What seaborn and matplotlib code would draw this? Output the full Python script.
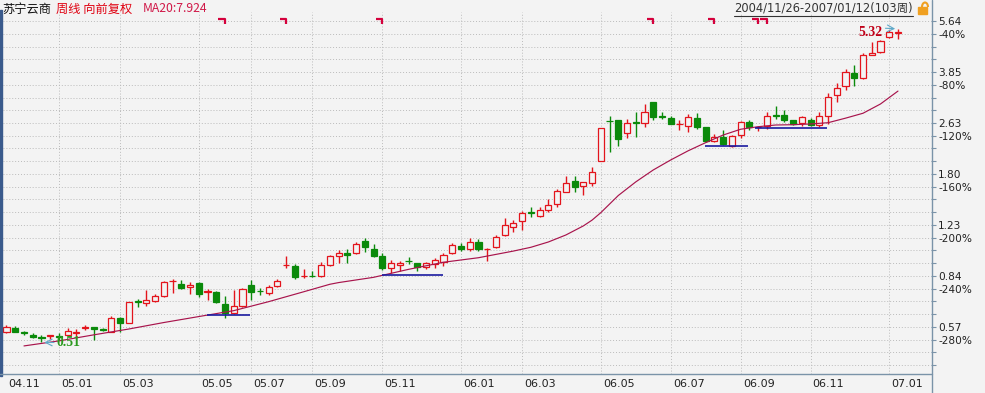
import numpy as np
import pandas as pd
import matplotlib
matplotlib.use('Agg')
import matplotlib.pyplot as plt
import matplotlib.transforms as mtransforms
from matplotlib.ticker import NullLocator
from matplotlib.patches import Rectangle, Arc
import seaborn as sns

# Weekly candles, forward adjusted, 2004/11/26 - 2007/01/12
opens = [0.553, 0.569, 0.550, 0.540, 0.532, 0.537, 0.537, 0.540, 0.547, 0.569,
         0.572, 0.564, 0.553, 0.611, 0.592, 0.693, 0.684, 0.697, 0.721, 0.806,
         0.789, 0.774, 0.794, 0.742, 0.744, 0.679, 0.634, 0.670, 0.786, 0.752,
         0.740, 0.778, 0.907, 0.905, 0.836, 0.840, 0.840, 0.910, 0.976, 0.993,
         0.998, 1.092, 1.023, 0.972, 0.888, 0.910, 0.939, 0.922, 0.895, 0.917,
         0.933, 0.993, 1.049, 1.023, 1.081, 1.023, 1.039, 1.137, 1.213, 1.265,
         1.350, 1.313, 1.373, 1.432, 1.575, 1.704, 1.643, 1.680, 1.980, 2.677,
         2.691, 2.436, 2.641, 2.625, 3.071, 2.766, 2.728, 2.606, 2.573, 2.728,
         2.548, 2.297, 2.365, 2.221, 2.405, 2.645, 2.545, 2.580, 2.786, 2.790,
         2.691, 2.625, 2.691, 2.592, 2.774, 3.243, 3.470, 3.832, 3.675, 4.390,
         4.490, 4.990, 5.160]
highs = [0.582, 0.575, 0.556, 0.547, 0.540, 0.540, 0.547, 0.567, 0.563, 0.582,
         0.574, 0.567, 0.622, 0.619, 0.692, 0.708, 0.755, 0.731, 0.809, 0.821,
         0.813, 0.803, 0.803, 0.759, 0.751, 0.723, 0.755, 0.765, 0.813, 0.765,
         0.786, 0.818, 0.974, 0.917, 0.881, 0.871, 0.929, 0.983, 1.018, 1.023,
         1.083, 1.112, 1.062, 0.993, 0.944, 0.939, 0.968, 0.927, 0.933, 0.956,
         0.998, 1.070, 1.075, 1.112, 1.104, 1.036, 1.139, 1.290, 1.273, 1.366,
         1.400, 1.400, 1.486, 1.604, 1.771, 1.771, 1.697, 1.889, 2.540, 2.778,
         2.700, 2.720, 2.863, 3.033, 3.078, 2.851, 2.774, 2.691, 2.808, 2.830,
         2.559, 2.418, 2.498, 2.405, 2.677, 2.691, 2.580, 2.863, 2.988, 2.899,
         2.700, 2.774, 2.728, 2.863, 3.285, 3.540, 3.936, 4.060, 4.430, 4.830,
         4.880, 5.270, 5.320]
lows = [0.547, 0.550, 0.540, 0.528, 0.510, 0.523, 0.520, 0.535, 0.530, 0.560,
        0.520, 0.557, 0.550, 0.553, 0.589, 0.663, 0.670, 0.690, 0.717, 0.736,
        0.759, 0.731, 0.717, 0.699, 0.684, 0.611, 0.630, 0.663, 0.699, 0.727,
        0.727, 0.774, 0.888, 0.818, 0.824, 0.830, 0.834, 0.903, 0.922, 0.922,
        0.988, 1.005, 0.968, 0.874, 0.860, 0.871, 0.917, 0.871, 0.881, 0.888,
        0.905, 0.988, 1.013, 1.013, 1.013, 0.939, 1.034, 1.131, 1.167, 1.183,
        1.306, 1.300, 1.356, 1.407, 1.565, 1.575, 1.537, 1.647, 1.975, 2.123,
        2.215, 2.358, 2.365, 2.559, 2.700, 2.705, 2.606, 2.498, 2.465, 2.511,
        2.280, 2.280, 2.235, 2.204, 2.348, 2.498, 2.478, 2.511, 2.705, 2.657,
        2.592, 2.573, 2.573, 2.559, 2.612, 3.086, 3.370, 3.470, 3.650, 4.370,
        4.450, 4.950, 4.920]
closes = [0.574, 0.553, 0.548, 0.530, 0.527, 0.540, 0.532, 0.556, 0.553, 0.571,
          0.563, 0.561, 0.611, 0.592, 0.689, 0.690, 0.701, 0.723, 0.803, 0.810,
          0.764, 0.786, 0.731, 0.751, 0.690, 0.637, 0.670, 0.759, 0.745, 0.749,
          0.770, 0.809, 0.910, 0.834, 0.838, 0.836, 0.910, 0.976, 0.993, 0.978,
          1.062, 1.039, 0.972, 0.888, 0.922, 0.922, 0.935, 0.895, 0.922, 0.944,
          0.981, 1.054, 1.023, 1.081, 1.023, 1.026, 1.120, 1.225, 1.249, 1.345,
          1.343, 1.373, 1.425, 1.583, 1.680, 1.634, 1.690, 1.820, 2.528, 2.665,
          2.340, 2.637, 2.631, 2.851, 2.758, 2.752, 2.612, 2.618, 2.758, 2.559,
          2.297, 2.375, 2.250, 2.388, 2.645, 2.548, 2.555, 2.774, 2.774, 2.691,
          2.612, 2.745, 2.592, 2.774, 3.186, 3.411, 3.860, 3.675, 4.370, 4.450,
          4.840, 5.210, 5.180]

# MA20 line, read at a set of weeks
ma_weeks = [2, 6, 10, 14, 18, 22, 26, 30, 34, 37, 38, 42, 46, 50, 54, 58, 60, 62,
            64, 66, 67, 68, 70, 72, 74, 76, 78, 80, 82, 84, 86, 88, 90, 92, 94, 96,
            98, 100, 102]
ma_values = [0.497, 0.516, 0.540, 0.564, 0.592, 0.619, 0.647, 0.692, 0.745, 0.788,
             0.798, 0.830, 0.881, 0.929, 0.961, 1.010, 1.039, 1.081, 1.139, 1.219,
             1.273, 1.346, 1.530, 1.694, 1.852, 1.996, 2.138, 2.272, 2.405, 2.511,
             2.559, 2.592, 2.598, 2.612, 2.637, 2.728, 2.830, 3.033, 3.340]

# blue horizontal levels (start week, end week, price)
level_start = [22.9, 43.0, 79.9, 85.6]
level_end = [27.9, 49.9, 84.8, 93.9]
level_price = [0.626, 0.847, 2.223, 2.535]

# info markers along the top
mine_weeks = [25, 32, 43, 74, 81, 86, 87]

# x axis
month_labels = ['04.11', '05.01', '05.03', '05.05', '05.07', '05.09', '05.11',
                '06.01', '06.03', '06.05', '06.07', '06.09', '06.11', '07.01']
month_weeks = [0, 6, 13, 22, 28, 35, 43, 52, 59, 68, 76, 84, 92, 101]

# y axis labels
axis_prices = ['5.64', '3.85', '2.63', '1.80', '1.23', '0.84', '0.57']
axis_pcts = ['-40%', '-80%', '-120%', '-160%', '-200%', '-240%', '-280%']

# ---------------- style ----------------
sns.set_theme(style='white')
plt.rcParams['font.family'] = ['DejaVu Sans', 'Noto Sans CJK SC']

BG = '#F3F3F3'
UP = '#E3141C'
DOWN = '#0B8A0B'
AXC = '#7A93A8'
GRID = '#BBBBBB'
W, H = 985, 393

fig = plt.figure(figsize=(W / 100, H / 100), dpi=100, facecolor=BG)
ax = fig.add_axes([3 / W, 19 / H, 928 / W, 362 / H])
ax.set_facecolor(BG)

df = pd.DataFrame({'open': opens, 'high': highs, 'low': lows, 'close': closes})
df['week'] = np.arange(len(df))
df['up'] = df['close'] >= df['open']
df['color'] = np.where(df['up'], UP, DOWN)

# wicks then bodies (hollow red bodies hide the wick)
ax.vlines(df['week'], df['low'], df['high'], colors=df['color'], linewidth=1, zorder=3)
body_lo = df[['open', 'close']].min(axis=1)
body_h = (df['close'] - df['open']).abs()
ax.bar(df['week'], body_h, bottom=body_lo, width=0.7,
       color=np.where(df['up'], BG, DOWN), edgecolor=df['color'],
       linewidth=0.9, zorder=4)

# MA20
sns.lineplot(x=ma_weeks, y=ma_values, ax=ax, color='#A8144C', linewidth=0.85, zorder=5)

# blue levels
ax.hlines(level_price, level_start, level_end, colors='#1A1AA0', linewidth=1.2, zorder=5)

ax.set_yscale('log')
ax.set_ylim(0.4029, 6.033)
ax.set_xlim(-0.4, 105.78)

# y ticks every 10% step, labelled as in the original
levels = 5.64 / 1.1 ** np.arange(28)
ylabels = []
for k in range(28):
    if k % 4 == 0:
        ylabels.append(axis_prices[k // 4])
    elif k % 4 == 1:
        ylabels.append(axis_pcts[k // 4])
    else:
        ylabels.append('')
ax.set_yticks(levels)
ax.set_yticklabels(ylabels)
ax.yaxis.set_minor_locator(NullLocator())
ax.yaxis.tick_right()
ax.tick_params(axis='y', direction='out', length=3.6, width=0.8, color=AXC,
               labelsize=7.6, pad=1.5, labelcolor='#222222')
for lv in levels:
    ax.axhline(lv, linestyle=(0, (1, 2)), color=GRID, linewidth=0.7, zorder=1)

# x ticks as separators, labels to the right of them
ax.set_xticks(month_weeks)
ax.set_xticklabels([])
ax.tick_params(axis='x', direction='out', length=13.7, width=0.8, color=AXC)
for w in month_weeks[1:]:
    ax.axvline(w, linestyle=(0, (1, 2)), color=GRID, linewidth=0.7, zorder=1)
trans = mtransforms.blended_transform_factory(ax.transData, ax.transAxes)
for w, lab in zip(month_weeks, month_labels):
    ax.text(w + 0.25, -0.028, lab, transform=trans, ha='left', va='center',
            fontsize=8, color='#222222', clip_on=False)

for s in ax.spines.values():
    s.set_visible(False)

# info markers
for w in mine_weeks:
    ax.plot([w - 0.75, w, w], [0.9793, 0.9793, 0.9655], transform=trans,
            color='#D4003C', linewidth=1.6, solid_capstyle='butt', zorder=6)

# high / low annotations
hi_i = int(np.argmax(highs))
lo_i = int(np.argmin(lows))
ax.annotate('', xy=(hi_i, highs[hi_i]), xytext=(-11, 0.5), textcoords='offset points',
            arrowprops=dict(arrowstyle='->', color='#5FA8C8', lw=0.8), zorder=7)
ax.annotate(f'{highs[hi_i]:.2f}', xy=(hi_i, highs[hi_i]), xytext=(-11, -2.7),
            textcoords='offset points', ha='right', va='center', color='#C00018',
            fontsize=9.8, fontweight='bold', family='Liberation Serif', zorder=7)
ax.annotate('', xy=(lo_i, lows[lo_i]), xytext=(11, 0), textcoords='offset points',
            arrowprops=dict(arrowstyle='->', color='#5FA8C8', lw=0.8), zorder=7)
ax.annotate(f'{lows[lo_i]:.2f}', xy=(lo_i, lows[lo_i]), xytext=(11, 0),
            textcoords='offset points', ha='left', va='center', color='#2B9A1F',
            fontsize=9.8, fontweight='bold', family='Liberation Serif', zorder=7)

# overlay in pixel coordinates for frame lines and header
ov = fig.add_axes([0, 0, 1, 1], zorder=10)
ov.set_xlim(0, W)
ov.set_ylim(H, 0)
ov.axis('off')
ov.patch.set_alpha(0)
ov.plot([931.5, 931.5], [0, H], color=AXC, linewidth=1)
ov.plot([0, 931.5], [374, 374], color=AXC, linewidth=1)
ov.add_patch(Rectangle((0, 10), 2.2, 366, color='#3A5A8C'))

cjk = ['Noto Sans CJK SC', 'DejaVu Sans']
ov.text(2, 9, '苏宁云商', fontsize=8.8, color='#111111', family=cjk, va='center')
ov.text(56, 9, '周线 向前复权', fontsize=8.8, color='#E00010', family=cjk, va='center')
ov.text(143, 9, 'MA20:7.924', fontsize=8.8, color='#D01848', family=cjk, va='center')
ov.text(913, 8, '2004/11/26-2007/01/12(103周)', fontsize=8.3, color='#333333',
        family=['DejaVu Sans', 'Noto Sans CJK SC'], ha='right', va='center')
ov.plot([734, 913], [15.5, 15.5], color='#333333', linewidth=0.8)

# small lock icon
ov.add_patch(Rectangle((918, 7), 9, 7, color='#F0A020'))
ov.add_patch(Arc((925, 7), 6, 9, theta1=180, theta2=360, color='#F0A020', linewidth=1.5))

fig.savefig('out.png', dpi=100, facecolor=BG)
